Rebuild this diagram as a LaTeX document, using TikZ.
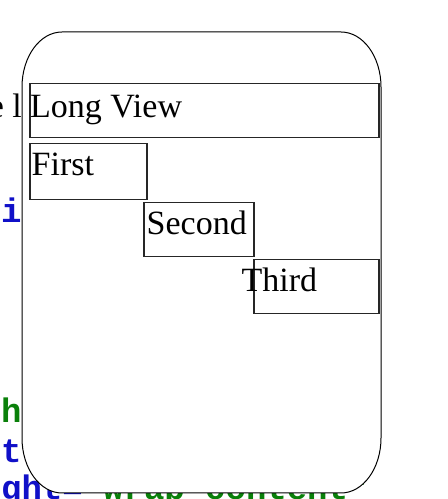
\documentclass[tikz,border=0pt]{standalone}
\usepackage{fontspec}
\setmainfont{Liberation Serif}
\newfontfamily\codefont{Liberation Mono}
\definecolor{codeblue}{RGB}{16,16,200}
\definecolor{codegreen}{RGB}{10,128,10}
\begin{document}
\begin{tikzpicture}[x=1pt,y=1pt,
  lbl/.style={inner sep=0pt, anchor=base west, font=\fontsize{34}{40}\selectfont},
  bgserif/.style={inner sep=0pt, anchor=base east, font=\fontsize{34}{40}\selectfont},
  bgcode/.style={inner sep=0pt, anchor=base west, font=\codefont\bfseries\fontsize{34}{40}\selectfont},
  viewbox/.style={draw=black!85, line width=1.5pt, inner sep=0pt, anchor=north west},
  card/.style={draw=black, line width=1pt, fill=white}]
\useasboundingbox (0,0) rectangle (448,499);
% background text partly hidden behind the card
\node[bgserif] (bg1) at (22,381) {e l};
\node[bgcode, text=codeblue] (bg2) at (1,276) {i};
\node[bgcode, text=codegreen] (bg3) at (1,76) {h};
\node[bgcode, text=codeblue] (bg4) at (1,36) {tl};
\node[bgcode] (bg5) at (1,-1) {\textcolor{codeblue}{ght=}\textcolor{codegreen}{"wrap\_content"}};
% card
\draw[card] (62,467) -- (341,467)
  arc[start angle=90, end angle=0, x radius=40, y radius=55] -- (381,61)
  arc[start angle=0, end angle=-90, x radius=40, y radius=55] -- (62,6)
  arc[start angle=270, end angle=180, x radius=40, y radius=55] -- (22,412)
  arc[start angle=180, end angle=90, x radius=40, y radius=55] -- cycle;
% boxes
\node[viewbox, minimum width=349, minimum height=54] (longbox) at (29,416) {};
\node[viewbox, minimum width=117, minimum height=56] (firstbox) at (29,356) {};
\node[viewbox, minimum width=110, minimum height=54] (secondbox) at (143,297) {};
\node[viewbox, minimum width=125, minimum height=54] (thirdbox) at (253,240) {};
% labels
\node[lbl] (longtxt) at (30,381) {Long View};
\node[lbl] (firsttxt) at (31.5,323) {First};
\node[lbl] (secondtxt) at (146.5,264) {Second};
\node[lbl] (thirdtxt) at (241.5,207) {Third};
\end{tikzpicture}
\end{document}
